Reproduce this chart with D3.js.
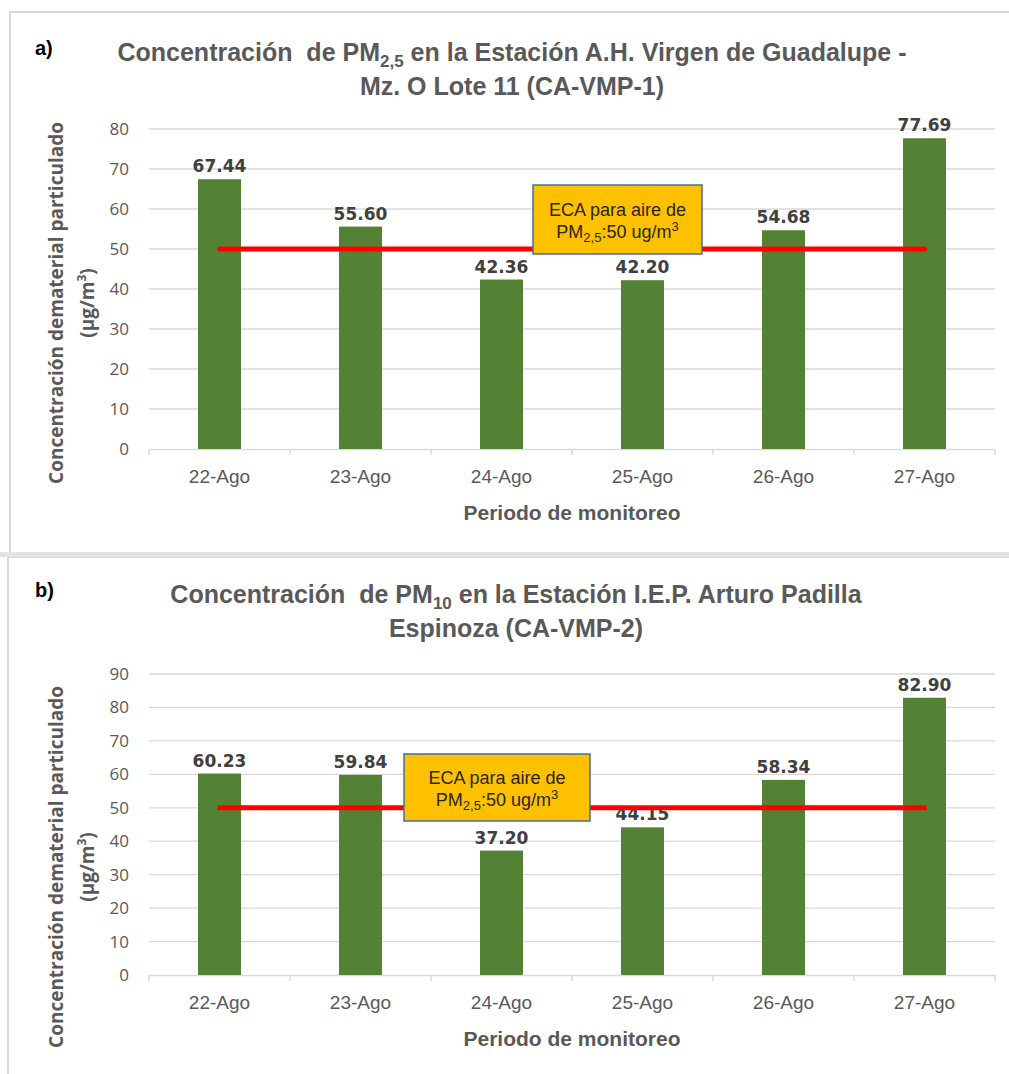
<!DOCTYPE html>
<html>
<head>
<meta charset="utf-8">
<script src="https://cdn.jsdelivr.net/npm/d3@7"></script>
<style>
  body { margin: 0; background: #fff; }
  text { white-space: pre; }
</style>
</head>
<body>
<svg id="chart" width="1009" height="1074"></svg>
<script>
  // data
  var categories = ['22-Ago', '23-Ago', '24-Ago', '25-Ago', '26-Ago', '27-Ago'];
  var pm25Values = [67.44, 55.60, 42.36, 42.20, 54.68, 77.69];
  var pm10Values = [60.23, 59.84, 37.20, 44.15, 58.34, 82.90];
  var yTicksA = [0, 10, 20, 30, 40, 50, 60, 70, 80];
  var yTicksB = [0, 10, 20, 30, 40, 50, 60, 70, 80, 90];
  var ecaLimit = 50;

  var grey = '#595959',
      gridColor = '#d9d9d9',
      barColor = '#548235',
      narrow = '"Liberation Sans Narrow", "Arial Narrow", "Liberation Sans", sans-serif',
      wide = '"Open Sans", "DejaVu Sans", sans-serif';

  var svg = d3.select('#chart');

  // panel frames
  svg.append('rect').attr('x', 10).attr('y', 12).attr('width', 1010).attr('height', 541)
    .attr('fill', 'none').attr('stroke', gridColor).attr('stroke-width', 2);
  svg.append('rect').attr('x', 8).attr('y', 557).attr('width', 1010).attr('height', 530)
    .attr('fill', 'none').attr('stroke', gridColor).attr('stroke-width', 2);
  svg.append('rect').attr('x', 0).attr('y', 552).attr('width', 1009).attr('height', 5)
    .attr('fill', '#e3e3e3');

  function drawPanel(cfg) {
    var g = svg.append('g');

    var x = d3.scaleBand().domain(categories).range([149, 995])
      .paddingInner(0.695).paddingOuter(0.3475);
    var y = d3.scaleLinear().domain([0, cfg.yMax]).range([cfg.y0, cfg.yTop]);

    // gridlines
    g.selectAll('.grid').data(cfg.ticks.slice(1)).enter().append('line')
      .attr('x1', 149).attr('x2', 995)
      .attr('y1', function(d) { return y(d); }).attr('y2', function(d) { return y(d); })
      .attr('stroke', gridColor).attr('stroke-width', 1.3);

    // y tick labels
    g.selectAll('.ytick').data(cfg.ticks).enter().append('text')
      .attr('x', 129).attr('y', function(d) { return y(d) + 6; })
      .attr('text-anchor', 'end')
      .attr('font-family', wide).attr('font-size', 17).attr('fill', grey)
      .text(function(d) { return d; });

    // x axis
    var xAxis = d3.axisBottom(x).tickSize(0).tickFormat('');
    var ax = g.append('g').attr('transform', 'translate(0,' + cfg.y0 + ')').call(xAxis);
    ax.select('.domain').attr('stroke', gridColor).attr('stroke-width', 1.5);
    var edges = d3.range(categories.length + 1).map(function(i) { return 149 + i * x.step(); });
    g.selectAll('.xtick').data(edges).enter().append('line')
      .attr('x1', function(d) { return d; }).attr('x2', function(d) { return d; })
      .attr('y1', cfg.y0).attr('y2', cfg.y0 + 6)
      .attr('stroke', gridColor).attr('stroke-width', 1.5);

    g.selectAll('.xlabel').data(categories).enter().append('text')
      .attr('x', function(d) { return x(d) + x.bandwidth() / 2; })
      .attr('y', cfg.y0 + 34)
      .attr('text-anchor', 'middle')
      .attr('font-family', narrow).attr('font-size', 19).attr('fill', grey)
      .text(function(d) { return d; });

    // bars
    g.selectAll('.bar').data(cfg.values).enter().append('rect')
      .attr('x', function(d, i) { return x(categories[i]); })
      .attr('y', function(d) { return y(d); })
      .attr('width', x.bandwidth())
      .attr('height', function(d) { return cfg.y0 - y(d); })
      .attr('fill', barColor);

    // value labels
    g.selectAll('.value').data(cfg.values).enter().append('text')
      .attr('x', function(d, i) { return x(categories[i]) + x.bandwidth() / 2; })
      .attr('y', function(d) { return y(d) - 7; })
      .attr('text-anchor', 'middle')
      .attr('font-family', '"DejaVu Sans", sans-serif').attr('font-weight', 'bold')
      .attr('font-size', 17).attr('fill', '#404040')
      .text(function(d) { return d.toFixed(2); });

    // ECA limit line
    var first = categories[0], last = categories[categories.length - 1];
    g.append('line')
      .attr('x1', x(first) + x.bandwidth() / 2).attr('x2', x(last) + x.bandwidth() / 2)
      .attr('y1', y(ecaLimit)).attr('y2', y(ecaLimit))
      .attr('stroke', '#ff0000').attr('stroke-width', 5).attr('stroke-linecap', 'round');

    // annotation box
    var b = cfg.box;
    g.append('rect').attr('x', b.x).attr('y', b.y).attr('width', b.w).attr('height', b.h)
      .attr('fill', '#ffc000').attr('stroke', '#41719c').attr('stroke-width', 1.5);
    var bx = b.x + b.w / 2;
    g.append('text').attr('x', bx).attr('y', b.y + b.h / 2 - 4)
      .attr('text-anchor', 'middle').attr('font-family', narrow).attr('font-size', 18)
      .attr('fill', '#262626').text('ECA para aire de');
    var t2 = g.append('text').attr('x', bx).attr('y', b.y + b.h / 2 + 18)
      .attr('text-anchor', 'middle').attr('font-family', narrow).attr('font-size', 18)
      .attr('fill', '#262626');
    t2.append('tspan').text('PM');
    t2.append('tspan').attr('font-size', 13).attr('dy', 4).text('2,5');
    t2.append('tspan').attr('dy', -4).text(':50 ug/m');
    t2.append('tspan').attr('font-size', 13).attr('dy', -7).text('3');

    // title
    var t = g.append('text').attr('x', cfg.titleX).attr('y', cfg.titleY)
      .attr('text-anchor', 'middle').attr('font-family', narrow).attr('font-weight', 'bold')
      .attr('font-size', 25).attr('fill', grey);
    t.append('tspan').text('Concentración  de PM');
    t.append('tspan').attr('font-size', 17).attr('dy', 6).text(cfg.sub);
    t.append('tspan').attr('dy', -6).text(cfg.title1);
    g.append('text').attr('x', cfg.titleX).attr('y', cfg.titleY + 34)
      .attr('text-anchor', 'middle').attr('font-family', narrow).attr('font-weight', 'bold')
      .attr('font-size', 25).attr('fill', grey).text(cfg.title2);

    g.append('text').attr('x', 35).attr('y', cfg.titleY - 6)
      .attr('font-family', narrow).attr('font-weight', 'bold').attr('font-size', 20)
      .attr('fill', '#000').text(cfg.tag);

    // axis titles
    g.append('text').attr('x', 572).attr('y', cfg.y0 + 71)
      .attr('text-anchor', 'middle').attr('font-family', narrow).attr('font-weight', 'bold')
      .attr('font-size', 21).attr('fill', grey).text('Periodo de monitoreo');

    var yl = g.append('g').attr('transform', 'translate(0,' + cfg.yLabelY + ') rotate(-90)');
    yl.append('text').attr('x', 0).attr('y', 63)
      .attr('text-anchor', 'middle').attr('font-family', wide).attr('font-weight', 'bold')
      .attr('font-size', 19).attr('fill', grey).text('Concentración dematerial particulado');
    var yl2 = yl.append('text').attr('x', 0).attr('y', 94)
      .attr('text-anchor', 'middle').attr('font-family', wide).attr('font-weight', 'bold')
      .attr('font-size', 19).attr('fill', grey);
    yl2.append('tspan').text('(µg/m');
    yl2.append('tspan').attr('font-size', 12).attr('dy', -8).text('3');
    yl2.append('tspan').attr('dy', 8).text(')');
  }

  drawPanel({
    values: pm25Values, ticks: yTicksA, yMax: 80, y0: 449, yTop: 129,
    box: { x: 533, y: 185, w: 169, h: 69 },
    tag: 'a)', sub: '2,5', title1: ' en la Estación A.H. Virgen de Guadalupe -',
    title2: 'Mz. O Lote 11 (CA-VMP-1)', titleX: 512, titleY: 61, yLabelY: 303
  });

  drawPanel({
    values: pm10Values, ticks: yTicksB, yMax: 90, y0: 975, yTop: 674,
    box: { x: 404, y: 754, w: 186, h: 67 },
    tag: 'b)', sub: '10', title1: ' en la Estación I.E.P. Arturo Padilla',
    title2: 'Espinoza (CA-VMP-2)', titleX: 516, titleY: 603, yLabelY: 867
  });
</script>
</body>
</html>
